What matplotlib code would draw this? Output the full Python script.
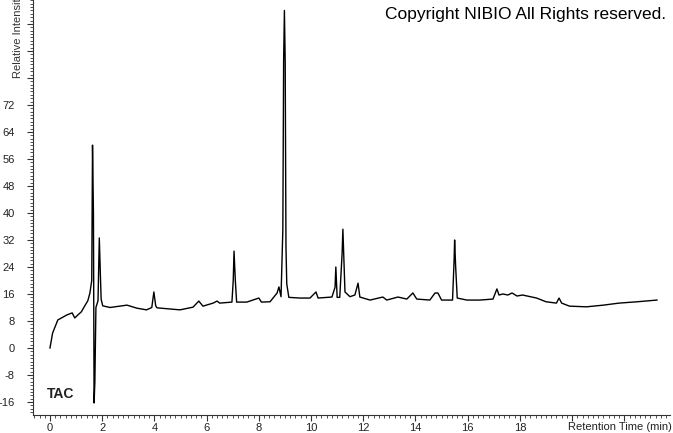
import matplotlib
matplotlib.use("Agg")
import matplotlib.pyplot as plt
from matplotlib.ticker import MultipleLocator

# chromatogram trace (retention time in min, relative intensity)
time_min = [0.0, 0.1, 0.3, 0.65, 0.85, 0.95, 1.07, 1.2, 1.35, 1.45, 1.53, 1.6,
            1.63, 1.665, 1.69, 1.72, 1.76, 1.84, 1.89, 1.93, 1.96, 2.02,
            2.3, 2.95, 3.33, 3.7, 3.9, 3.98, 4.05, 4.1, 4.98, 5.48, 5.7, 5.86,
            6.25, 6.4, 6.5, 6.97, 7.02, 7.05, 7.1, 7.15, 7.54, 8.0, 8.1, 8.43,
            8.7, 8.77, 8.85, 8.92, 8.95, 8.98, 9.01, 9.04, 9.07, 9.15, 9.57,
            9.96, 10.19, 10.27, 10.8, 10.92, 10.95, 11.0, 11.1, 11.19, 11.22,
            11.3, 11.49, 11.68, 11.8, 11.87, 12.26, 12.75, 12.9, 13.33, 13.67,
            13.9, 14.05, 14.55, 14.75, 14.86, 15.0, 15.42, 15.48, 15.5, 15.54,
            15.6, 15.97, 16.47, 16.97, 17.12, 17.2, 17.35, 17.54, 17.7, 17.89,
            18.1, 18.4, 18.64, 19.0, 19.4, 19.5, 19.6, 19.9, 20.55, 21.2, 21.8,
            22.5, 23.25]
intensity = [0.0, 4.4, 8.3, 9.8, 10.4, 8.9, 9.8, 10.7, 12.7, 14.0, 16.3, 20.0,
             60.1, 40.0, -16.3, -10.0, 12.0, 14.0, 32.6, 22.0, 14.5, 12.5,
             12.0, 12.7, 11.8, 11.3, 12.0, 16.6, 12.5, 11.9, 11.3, 12.1, 13.9, 12.4,
             13.3, 13.9, 13.3, 13.6, 20.0, 28.7, 20.0, 13.6, 13.6, 14.8, 13.6, 13.7,
             16.3, 18.1, 15.2, 35.0, 85.0, 100.0, 85.0, 30.0, 19.0, 15.0, 14.8,
             14.8, 16.6, 14.8, 15.1, 18.0, 24.0, 15.0, 15.0, 28.0, 35.2,
             16.6, 15.2, 15.7, 19.2, 15.1, 14.2, 15.1, 14.2, 15.1, 14.5,
             16.3, 14.5, 14.2, 16.3, 16.3, 14.2, 14.2, 26.0, 32.0, 24.0,
             14.8, 14.2, 14.2, 14.5, 17.5, 15.7, 16.0, 15.7, 16.3, 15.4,
             15.7, 15.2, 14.8, 13.7, 13.3, 14.8, 13.3, 12.4, 12.2, 12.7, 13.3,
             13.7, 14.2]

x_major = list(range(0, 24, 2))
x_labels = [str(v) if v <= 18 else "" for v in x_major]
y_major = list(range(-16, 104, 8))
y_labels = [str(v) if v <= 72 else "" for v in y_major]

plt.rcParams["font.family"] = ["Liberation Sans", "DejaVu Sans"]

fig = plt.figure(figsize=(6.73, 4.33), dpi=100)
ax = fig.add_axes([33 / 673, 18 / 433, (670 - 33) / 673, 415 / 433])
ax.plot(time_min, intensity, color="black", lw=1.0)

ax.set_xlim(-0.65, 23.75)
ax.set_ylim(-19.85, 103.1)
ax.set_xticks(x_major)
ax.set_xticklabels(x_labels)
ax.set_yticks(y_major)
ax.set_yticklabels(y_labels)
ax.xaxis.set_minor_locator(MultipleLocator(0.2))
ax.yaxis.set_minor_locator(MultipleLocator(1))
ax.tick_params(which="major", direction="out", length=4, width=0.8,
               labelsize=8, labelcolor="#222222", color="#333333")
ax.tick_params(which="minor", direction="out", length=2, width=0.6,
               color="#333333")
ax.tick_params(axis="y", which="major", pad=9)
ax.tick_params(axis="x", which="major", pad=1.5)
for side in ["top", "right"]:
    ax.spines[side].set_visible(False)
for side in ["left", "bottom"]:
    ax.spines[side].set_color("#333333")
    ax.spines[side].set_linewidth(0.8)

fig.text(666 / 673, 1 - 15 / 433, "Copyright NIBIO All Rights reserved.",
         ha="right", va="center", fontsize=12.5, color="black")
fig.text(18.5 / 673, 1 - 78 / 433, "Relative Intensity", rotation=90,
         ha="center", va="bottom", fontsize=8, color="#333333")
fig.text(672 / 673, 6 / 433, "Retention Time (min)", ha="right",
         va="center", fontsize=8, color="#222222")
fig.text(47 / 673, 1 - 398 / 433, "TAC", fontsize=10,
         fontweight="bold", color="#222222")

fig.savefig("out.png", dpi=100)
